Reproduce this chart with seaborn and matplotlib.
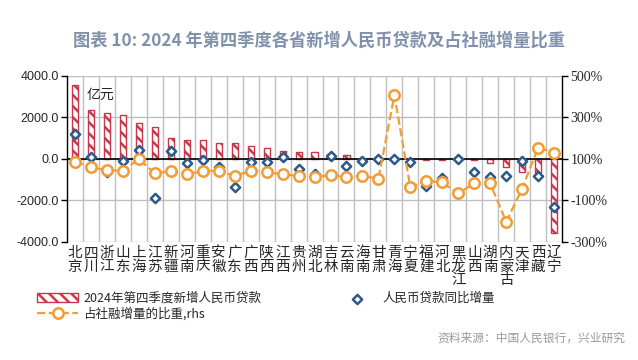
import matplotlib
matplotlib.use("Agg")
import matplotlib.pyplot as plt
import numpy as np
import seaborn as sns

# 2024Q4 各省新增人民币贷款 / 同比增量 (亿元), 占社融增量比重 (%)
provinces = ['北京', '四川', '浙江', '山东', '上海', '江苏', '新疆', '河南', '重庆', '安徽',
             '广东', '广西', '陕西', '江西', '贵州', '湖北', '吉林', '云南', '海南', '甘肃',
             '青海', '宁夏', '福建', '河北', '黑龙江', '山西', '湖南', '内蒙古', '天津', '西藏', '辽宁']
loans = [3580, 2360, 2210, 2110, 1720, 1520, 1030, 900, 900, 780,
         770, 620, 510, 380, 330, 330, 220, 180, 50, 20,
         10, 0, -40, -45, -50, -55, -210, -410, -650, -700, -3570]
loans_yoy = [1180, 115, -620, -80, 440, -1900, 390, -200, -50, -380,
             -1330, -165, -130, 80, -475, -740, 150, -345, -80, 15,
             -15, -140, -1300, -935, 15, -640, -870, -820, -115, -820, -2295]
tsf_share = [87, 59, 46, 43, 100, 30, 41, 26, 41, 43,
             18, 43, 36, 26, 18, 13, 21, 13, 18, 5,
             407, -36, -5, -13, -66, -18, -18, -203, -43, 154, 131]

RED = '#c8374a'
BLUE = '#2e5a8a'
ORANGE = '#f39c33'
CJK = ['Noto Sans CJK SC', 'DejaVu Sans']

sns.set_style('white')
plt.rcParams['font.family'] = CJK
plt.rcParams['hatch.color'] = RED
plt.rcParams['hatch.linewidth'] = 1.8
plt.rcParams['axes.unicode_minus'] = False

fig = plt.figure(figsize=(6.38, 3.6), dpi=100)
fig.subplots_adjust(left=0.105, right=0.881, top=0.789, bottom=0.328)
ax = fig.add_subplot(111)
idx = np.arange(len(provinces))

sns.barplot(x=idx, y=loans, ax=ax, color='white', edgecolor=RED,
            linewidth=1.0, width=0.38, native_scale=True)
for p in ax.patches:
    p.set_hatch('\\\\\\')
    p.set_facecolor('white')
    p.set_edgecolor(RED)

sns.scatterplot(x=idx, y=loans_yoy, ax=ax, marker='D', s=22, color='white',
                edgecolor=BLUE, linewidth=1.8, zorder=4)

ax.set_xlim(-0.5, len(provinces) - 0.5)
ax.set_ylim(-4000, 4000)
ax.set_yticks([4000, 2000, 0, -2000, -4000])
ax.set_yticklabels([f'{v:.1f}' for v in [4000, 2000, 0, -2000, -4000]],
                   family='Liberation Sans', fontsize=9)
ax.set_xticks(idx)
ax.set_xticklabels(['\n'.join(p) for p in provinces], fontsize=10.5, linespacing=0.95)
ax.set_xticks(idx[:-1] + 0.5, minor=True)
ax.tick_params(axis='x', which='both', length=0, pad=3)
ax.tick_params(axis='y', length=4, width=1, color='black', direction='out', pad=2)
ax.grid(axis='y', color='#bfbfbf', lw=1)
ax.grid(axis='x', which='minor', color='#bfbfbf', lw=1)
ax.set_axisbelow(True)
ax.axhline(0, color='black', lw=1.2, zorder=3)
for s in ['top', 'bottom', 'right']:
    ax.spines[s].set_visible(False)
ax.spines['left'].set_color('black')
ax.spines['left'].set_linewidth(1)
ax.set_xlabel('')
ax.text(0.75, 3100, '亿元', fontsize=10, ha='left', va='center', style='italic')

ax2 = ax.twinx()
sns.lineplot(x=idx, y=tsf_share, ax=ax2, color=ORANGE, linestyle='--', lw=1.6,
             marker='o', markersize=7.5, markerfacecolor='white',
             markeredgecolor=ORANGE, markeredgewidth=1.8, zorder=5)
ax2.set_ylim(-300, 500)
ax2.set_yticks([500, 300, 100, -100, -300])
ax2.set_yticklabels([f'{v}%' for v in [500, 300, 100, -100, -300]],
                    family='Liberation Serif', fontsize=10)
ax2.tick_params(axis='y', length=4, width=1, color='black', direction='out', pad=2)
for s in ['top', 'bottom', 'left']:
    ax2.spines[s].set_visible(False)
ax2.spines['right'].set_color('black')
ax2.spines['right'].set_linewidth(1)
ax2.grid(False)

handles = [ax.patches[0], ax2.get_lines()[0], ax.collections[0]]
labels = ['2024年第四季度新增人民币贷款', '占社融增量的比重,rhs', '人民币贷款同比增量']
fig.legend(handles, labels, loc='upper left', bbox_to_anchor=(0.058, 1 - 292 / 360),
           ncol=2, frameon=False, fontsize=9, handlelength=3.3, handletextpad=0.4,
           columnspacing=6.0, labelspacing=0.15, borderpad=0, borderaxespad=0)

fig.text(0.5, 1 - 41 / 360, '图表 10: 2024 年第四季度各省新增人民币贷款及占社融增量比重',
         ha='center', va='center', fontsize=12.4, fontweight='bold', color='#8092ab')
fig.text(625 / 638, 1 - 338 / 360, '资料来源：中国人民银行，兴业研究',
         ha='right', va='center', fontsize=8.5, color='#9a9a9a')

fig.savefig('out.png', dpi=100)
